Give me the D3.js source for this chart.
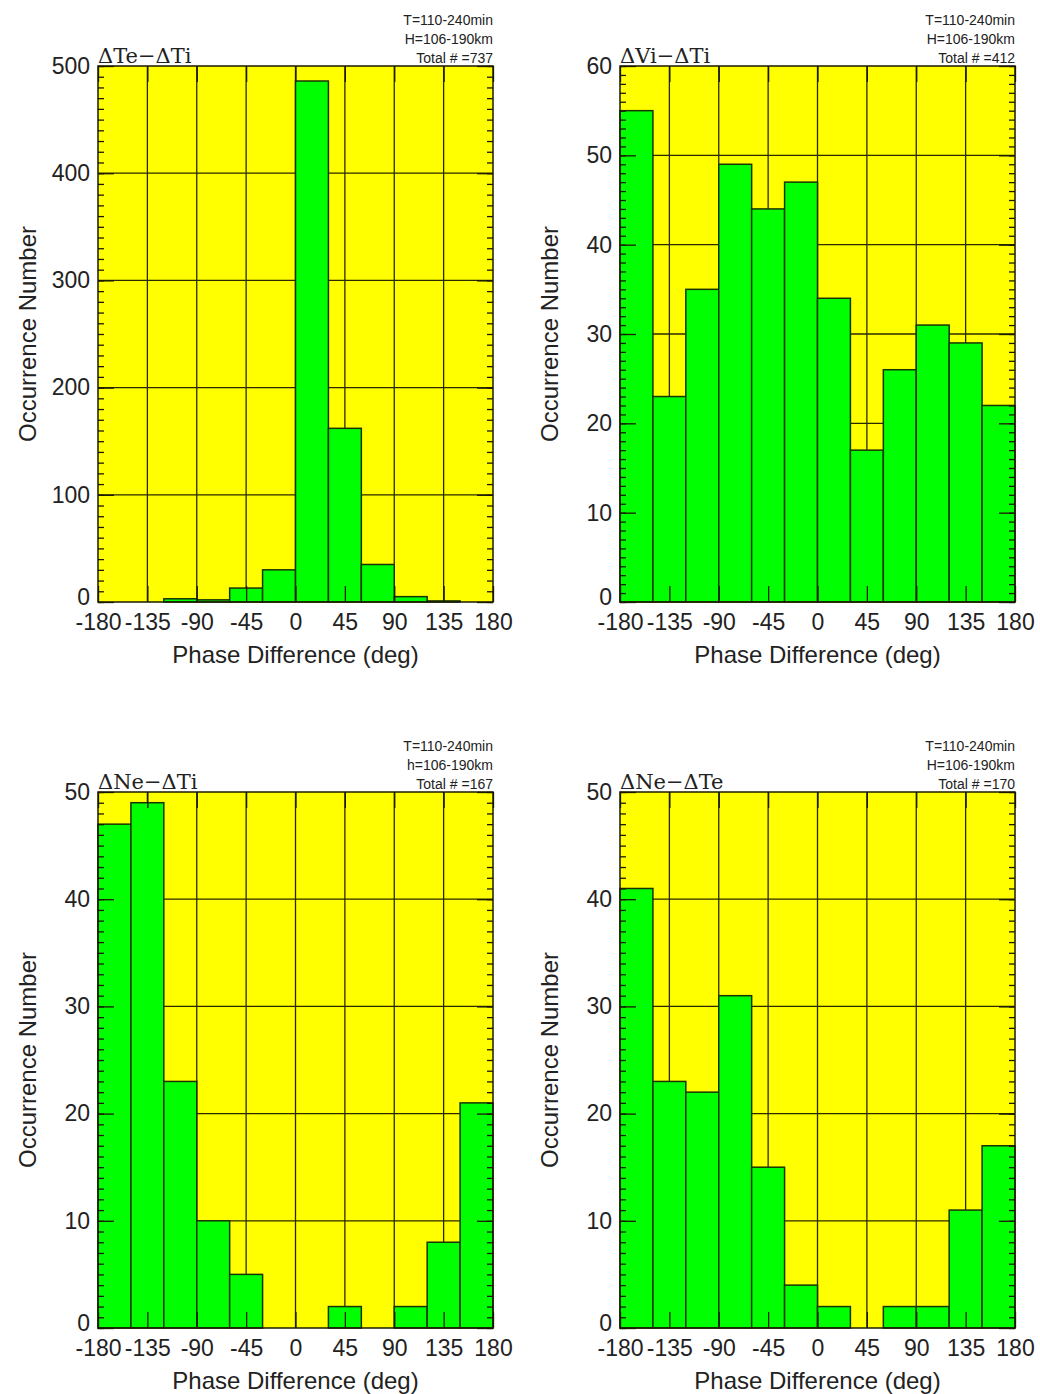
<!DOCTYPE html>
<html>
<head>
<meta charset="utf-8">
<script src="https://cdn.jsdelivr.net/npm/d3@7"></script>
<style>
  body { margin: 0; background: #fff; }
  text { font-family: "Liberation Sans", Arial, sans-serif; fill: #222; }
</style>
</head>
<body>
<div id="chart"></div>
<script>
// bin edges (deg) and x tick labels
var binEdges = [-180, -150, -120, -90, -60, -30, 0, 30, 60, 90, 120, 150, 180];
var xTicks = [-180, -135, -90, -45, 0, 45, 90, 135, 180];

// occurrence counts per 30 deg bin
var teTiCounts = [0, 0, 3, 2, 13, 30, 486, 162, 35, 5, 1, 0];
var viTiCounts = [55, 23, 35, 49, 44, 47, 34, 17, 26, 31, 29, 22];
var neTiCounts = [47, 49, 23, 10, 5, 0, 0, 2, 0, 2, 8, 21];
var neTeCounts = [41, 23, 22, 31, 15, 4, 2, 0, 2, 2, 11, 17];

// y tick labels
var yTicksTeTi = [0, 100, 200, 300, 400, 500];
var yTicksViTi = [0, 10, 20, 30, 40, 50, 60];
var yTicksNe = [0, 10, 20, 30, 40, 50];

var titles = ["\u0394Te\u2212\u0394Ti", "\u0394Vi\u2212\u0394Ti", "\u0394Ne\u2212\u0394Ti", "\u0394Ne\u2212\u0394Te"];
var headers = [
  ["T=110-240min", "H=106-190km", "Total # =737"],
  ["T=110-240min", "H=106-190km", "Total # =412"],
  ["T=110-240min", "h=106-190km", "Total # =167"],
  ["T=110-240min", "H=106-190km", "Total # =170"]
];

var xLabel = "Phase Difference (deg)";
var yLabel = "Occurrence Number";

// page size
var svgWidth = 1040;
var svgHeight = 1394;

// plot boxes
var plotW = 395;
var plotH = 536;
var panelPos = [
  {left: 98, top: 66},
  {left: 620, top: 66},
  {left: 98, top: 792},
  {left: 620, top: 792}
];

var svg = d3.select("#chart")
  .append("svg")
  .attr("width", svgWidth)
  .attr("height", svgHeight);

svg.append("rect")
  .attr("width", svgWidth)
  .attr("height", svgHeight)
  .attr("fill", "#fff");

var panels = [
  {counts: teTiCounts, yTicks: yTicksTeTi},
  {counts: viTiCounts, yTicks: yTicksViTi},
  {counts: neTiCounts, yTicks: yTicksNe},
  {counts: neTeCounts, yTicks: yTicksNe}
];

panels.forEach(function(p, i) {
  var pos = panelPos[i];
  var g = svg.append("g")
    .attr("transform", `translate(${pos.left}, ${pos.top})`);

  var yMax = p.yTicks[p.yTicks.length - 1];
  var yStep = p.yTicks[1] - p.yTicks[0];

  var x = d3.scaleLinear().domain([-180, 180]).range([0, plotW]);
  var y = d3.scaleLinear().domain([0, yMax]).range([plotH, 0]);

  // background
  g.append("rect")
    .attr("width", plotW)
    .attr("height", plotH)
    .attr("fill", "#ffff00");

  // grid
  g.selectAll(".vgrid")
    .data(xTicks.slice(1, -1))
    .enter()
    .append("line")
    .attr("x1", d => x(d)).attr("x2", d => x(d))
    .attr("y1", 0).attr("y2", plotH)
    .attr("stroke", "#2a2a00")
    .attr("stroke-width", 1.3);

  g.selectAll(".hgrid")
    .data(p.yTicks.slice(1, -1))
    .enter()
    .append("line")
    .attr("x1", 0).attr("x2", plotW)
    .attr("y1", d => y(d)).attr("y2", d => y(d))
    .attr("stroke", "#2a2a00")
    .attr("stroke-width", 1.3);

  // bars
  var bins = p.counts.map(function(c, j) {
    return {x0: binEdges[j], x1: binEdges[j + 1], count: c};
  });

  g.selectAll(".bar")
    .data(bins.filter(d => d.count > 0))
    .enter()
    .append("rect")
    .attr("x", d => x(d.x0))
    .attr("width", d => x(d.x1) - x(d.x0))
    .attr("y", d => y(d.count))
    .attr("height", d => plotH - y(d.count))
    .attr("fill", "#00ff00")
    .attr("stroke", "#1a3300")
    .attr("stroke-width", 1.5);

  // axes, ticks pointing inward
  var minorTicks = d3.range(0, yMax + 0.001, yStep / 10);

  var bottomAxis = d3.axisBottom(x)
    .tickValues(xTicks)
    .tickSizeInner(-16)
    .tickSizeOuter(0)
    .tickPadding(12)
    .tickFormat(d => String(d));
  var xAxisG = g.append("g")
    .attr("transform", `translate(0, ${plotH})`)
    .call(bottomAxis);

  g.append("g")
    .call(d3.axisTop(x).tickValues(xTicks).tickSizeInner(-16).tickSizeOuter(0).tickFormat(""));

  var leftAxis = d3.axisLeft(y)
    .tickValues(p.yTicks)
    .tickSizeInner(-16)
    .tickSizeOuter(0)
    .tickPadding(8)
    .tickFormat(d => String(d));
  var yAxisG = g.append("g").call(leftAxis);

  g.append("g")
    .call(d3.axisLeft(y).tickValues(minorTicks).tickSizeInner(-6).tickSizeOuter(0).tickFormat(""));
  g.append("g")
    .attr("transform", `translate(${plotW}, 0)`)
    .call(d3.axisRight(y).tickValues(p.yTicks).tickSizeInner(-16).tickSizeOuter(0).tickFormat(""));
  g.append("g")
    .attr("transform", `translate(${plotW}, 0)`)
    .call(d3.axisRight(y).tickValues(minorTicks).tickSizeInner(-6).tickSizeOuter(0).tickFormat(""));

  g.selectAll(".domain").remove();
  g.selectAll(".tick line")
    .attr("stroke", "#1a1a00")
    .attr("stroke-width", 1.3);

  xAxisG.selectAll("text")
    .style("font-size", "23px")
    .attr("fill", "#222");
  yAxisG.selectAll("text")
    .style("font-size", "23px")
    .attr("fill", "#222");
  // the zero label sits a little above the axis line
  yAxisG.selectAll(".tick text")
    .filter(d => d === 0)
    .attr("dy", "0.1em");

  // frame
  g.append("rect")
    .attr("width", plotW)
    .attr("height", plotH)
    .attr("fill", "none")
    .attr("stroke", "#1a1a00")
    .attr("stroke-width", 1.5);

  // axis titles
  g.append("text")
    .attr("x", plotW / 2)
    .attr("y", plotH + 61)
    .attr("text-anchor", "middle")
    .style("font-size", "24px")
    .text(xLabel);

  g.append("text")
    .attr("transform", `translate(-62, ${plotH / 2}) rotate(-90)`)
    .attr("text-anchor", "middle")
    .style("font-size", "24px")
    .text(yLabel);

  // panel title
  g.append("text")
    .attr("x", 0)
    .attr("y", -3)
    .style("font-family", "'DejaVu Serif', 'Liberation Serif', serif")
    .style("font-size", "21px")
    .text(titles[i]);

  // header block
  g.append("text")
    .attr("text-anchor", "end")
    .style("font-size", "14px")
    .selectAll("tspan")
    .data(headers[i])
    .enter()
    .append("tspan")
      .attr("x", plotW)
      .attr("y", (d, k) => -41 + k * 19)
      .text(d => d);
});
</script>
</body>
</html>
